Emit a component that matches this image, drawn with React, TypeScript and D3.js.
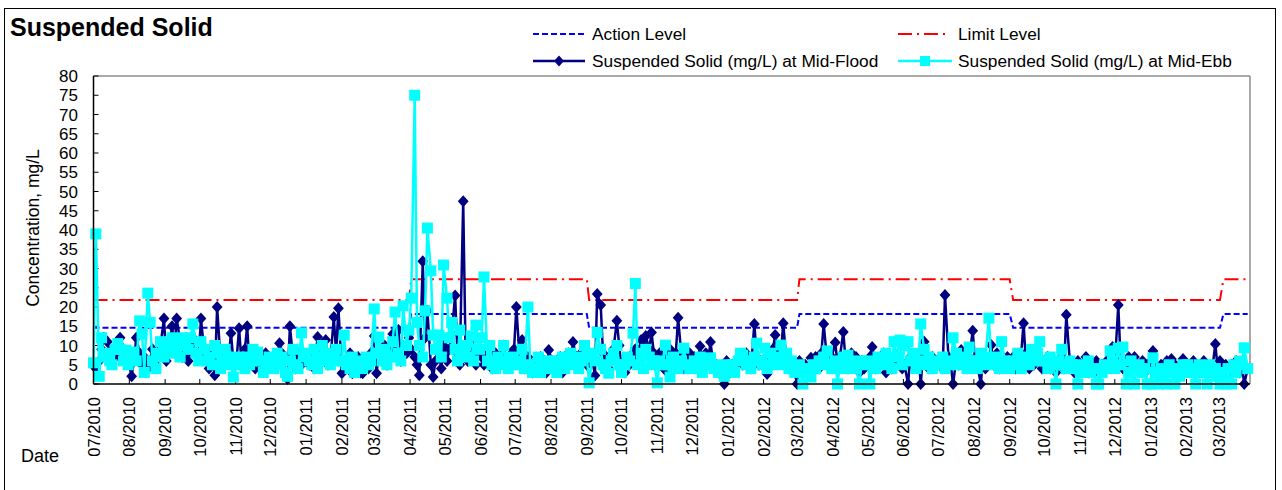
import React from "react";
import * as d3 from "d3";

// ---------- DATA (mg/L) ----------
// Each inner array is one month; samples are taken every Tue / Thu / Sat.
const flood2010 = [
  [5, 4, 6, 9, 12, 11, 8, 6, 7, 10, 12, 9, 7, 6],
  [2, 6, 12, 8, 5, 7, 4, 6, 9, 5, 8, 10, 17],
  [6, 8, 15, 9, 17, 11, 7, 10, 6, 9, 12, 8, 7],
  [17, 8, 6, 4, 9, 2.3, 20, 6, 5, 8, 7, 13.2, 6],
  [7, 14.5, 6, 9, 15, 5, 8, 4, 7, 6, 5, 8, 6],
  [5, 7, 6, 10.6, 8, 3, 1.3, 15, 6, 4, 8, 5, 7],
];
const flood2011a = [
  [6, 5, 8, 4, 12.2, 7, 9, 11.4, 5, 6, 17.4, 8, 19.7],
  [2.8, 6, 4, 8, 2.8, 5, 7, 3, 2.8, 6, 4, 8],
  [12.5, 2.8, 8, 6, 10, 5, 7, 13, 9, 14, 6, 10, 8, 12],
  [9, 7, 5, 2.3, 31.9, 12, 19, 5, 1.8, 6, 8, 4, 10],
  [6, 9, 13, 23, 8, 5, 47.5, 9, 6, 11, 7, 5, 8],
  [7, 5, 9, 6, 4, 8, 5, 7, 10, 6, 5, 8, 9],
];
const flood2011b = [
  [20, 6, 11.4, 4, 7, 5, 3, 6, 4, 7, 5, 3, 8.8],
  [6, 4, 5, 7, 3, 5, 8, 6, 10.9, 7, 5, 8, 6],
  [5, 7, 6, 2.2, 23.4, 20.5, 8, 6, 4, 7, 9, 16.4, 10],
  [4, 3, 6, 5, 8, 9, 7, 11.4, 10, 12.5, 9, 13.4, 8],
  [6, 8, 5, 3.6, 7, 9, 6, 8, 17.2, 7, 4, 6, 8],
  [5, 7, 6, 9.8, 4, 8, 6, 10.9, 4, 5, 3, 4, 0, 6],
];
const flood2012a = [
  [3, 5, 4, 6, 7, 5, 8, 6, 4, 15.6, 7, 5, 6],
  [5, 2.6, 7, 9, 12.7, 6, 8, 15.8, 5, 4, 6, 3],
  [0, 6, 4, 5, 3, 6.8, 5, 7, 4, 8, 15.6, 6, 5, 7],
  [10.8, 5, 7, 13.5, 6, 4, 8, 5, 7, 3, 6, 4],
  [5, 7, 9.6, 4, 6, 5, 8, 3, 6, 4, 7, 5, 6, 4],
  [5, 0, 7, 5, 6, 8, 0, 11, 6, 4, 7, 5, 6],
];
const flood2012b = [
  [6, 4, 23.1, 7, 5, 0, 7, 5, 8.8, 6, 4, 7, 13.8],
  [6, 5, 0, 7, 4, 6, 10.1, 5, 8, 4, 6, 5, 7],
  [5, 7, 4, 6, 8, 15.8, 6, 4, 7, 5, 8, 6, 4],
  [5, 7, 4, 6, 3, 5, 7, 4, 18, 6, 5, 3, 6],
  [4, 5, 7, 3, 5, 4, 6, 3, 5, 4, 6, 5, 9.6],
  [5, 20.5, 6, 4, 5, 7, 4, 7, 5, 4, 6, 3, 5],
];
const flood2013 = [
  [5, 8.6, 4, 3, 5, 4, 6, 4, 6.5, 5, 3, 4, 6.5, 5],
  [5, 4, 6, 5, 3, 4, 6, 5, 4, 3, 10.4, 4],
  [6, 4, 5, 3, 5, 4, 6, 3, 5, 0, 4],
];

const ebb2010 = [
  [5.5, 39, 2, 12, 7, 8, 6, 5, 9, 10.5, 9, 6, 8.8, 5],
  [8, 8.3, 6, 16.4, 13, 3, 23.6, 16, 6, 4, 8, 11, 7],
  [10, 9, 12, 8, 11, 7, 12, 10, 9, 12, 15.6, 8, 6],
  [11, 9, 6, 7, 5, 10, 8, 4, 6, 9, 7, 5, 1.8],
  [5, 7, 6, 4, 7, 5, 9, 6, 8.3, 6, 3, 5, 7],
  [6, 4, 8, 5, 7, 3, 2, 6, 9, 5, 4, 13.3, 7],
];
const ebb2011a = [
  [8, 6, 5, 9, 4, 7, 10, 6, 8, 5, 7, 9, 6],
  [6, 12.7, 5, 4, 7, 3, 6, 5, 4, 7, 5, 6],
  [19.5, 8, 12.2, 6, 9, 5, 7, 11, 18.7, 8, 6, 20.3, 10, 14],
  [22.3, 75, 16, 10, 7, 19, 40.5, 29.4, 12.7, 9, 12.7, 7, 30.9],
  [22.3, 12, 16, 9, 6, 14, 8, 10, 7, 12.5, 6, 15.3, 9],
  [12, 27.8, 6, 10, 5, 4, 7, 5, 10, 6, 4, 7, 5],
];
const ebb2011b = [
  [5, 6, 9, 4, 20, 5, 3, 4, 7, 3, 5, 4, 6],
  [4, 6, 3, 5, 7, 4, 6, 8, 5, 7, 4, 6, 10],
  [7, 0.3, 8, 6, 13.4, 9, 5, 4, 2.8, 6, 8, 10, 5],
  [3, 5, 7, 6, 13.2, 26.1, 5, 8, 4, 9, 7, 5, 6],
  [0.3, 6, 5, 10.1, 5, 1.8, 7, 5, 4, 6, 9.3, 5, 4],
  [4, 6, 5, 7, 3, 5, 6, 6.8, 4, 5, 3, 4, 2, 5],
];
const ebb2012a = [
  [4, 5, 3, 6, 8, 7.5, 5, 6, 4, 7, 10.6, 6, 5],
  [9.3, 4, 8, 5, 7, 6, 10.1, 5, 8, 4, 6, 3],
  [4, 5, 0, 3, 4, 1.8, 5, 4, 6, 5, 7, 8.6, 5, 4],
  [6, 0, 5, 7, 4, 7.5, 6, 5, 4, 0, 6, 5],
  [6, 0, 5, 4, 7, 6, 5, 8, 6, 4, 11, 7, 11.4, 5],
  [10, 11, 6, 8, 4, 6, 15.6, 9, 5, 7, 4, 6, 5],
];
const ebb2012b = [
  [5, 7, 4, 6, 5, 12, 8, 6, 5, 7, 4, 9.6, 6],
  [6, 4, 8, 5, 7, 17.1, 6, 5, 7, 4, 11, 6, 5],
  [4, 6, 5, 8, 4, 6, 7, 5, 9, 6, 8, 11, 6],
  [6, 4, 7, 5, 0, 6, 9, 5, 4, 6, 5, 4, 0],
  [5, 3, 4, 6, 3, 4, 0, 0, 3, 5, 4, 8.6, 6],
  [4, 9.3, 5, 9.6, 0, 3, 6, 0, 4, 5, 3, 4, 0],
];
const ebb2013 = [
  [0, 6.8, 3, 0, 4, 2, 0, 5, 3, 0, 4, 2, 5, 3],
  [5, 3, 4, 0, 5, 3, 4, 0, 5, 3, 4, 2],
  [0, 3, 0, 4, 0, 5, 3, 6, 5, 9.4, 4],
];

// Action / Limit levels by season (start date of each period)
const periodStarts = ["2010-07-01", "2011-04-01", "2011-09-02", "2012-03-02", "2012-09-02", "2013-03-04"];
const actionLevels = [14.6, 18.2, 14.6, 18.2, 14.6, 18.2];
const limitLevels = [21.8, 27.2, 21.8, 27.2, 21.8, 27.2];

const firstMonth = "2010-07-01";
const lastSample = "2013-03-26";
const axisEnd = "2013-03-28";
const yTicks = [0, 5, 10, 15, 20, 25, 30, 35, 40, 45, 50, 55, 60, 65, 70, 75, 80];

const seriesNames = [
  "Action Level",
  "Limit Level",
  "Suspended Solid (mg/L) at Mid-Flood",
  "Suspended Solid (mg/L) at Mid-Ebb",
];

// ---------- helpers ----------
const parse = (s: string) => {
  const [y, m, d] = s.split("-").map(Number);
  return new Date(y, m - 1, d);
};

function buildSeries(monthsData: number[][]) {
  const start = parse(firstMonth);
  const last = parse(lastSample);
  const pts: { date: Date; v: number }[] = [];
  monthsData.forEach((vals, i) => {
    const m0 = d3.timeMonth.offset(start, i);
    const m1 = d3.timeMonth.offset(m0, 1);
    const days = d3.timeDay
      .range(m0, m1)
      .filter((d) => [2, 4, 6].includes(d.getDay()) && d <= last);
    const n = Math.min(days.length, vals.length);
    for (let k = 0; k < n; k++) pts.push({ date: days[k], v: vals[k] });
  });
  return pts;
}

const FONT = "'Liberation Sans', Arial, Helvetica, sans-serif";

export default function App() {
  const W = 1282;
  const H = 490;
  const left = 93.5;
  const right = 1250;
  const top = 76;
  const bottom = 384;

  const x = d3.scaleTime().domain([parse(firstMonth), parse(axisEnd)]).range([left, right]);
  const y = d3.scaleLinear().domain([0, 80]).range([bottom, top]);

  const flood = buildSeries([...flood2010, ...flood2011a, ...flood2011b, ...flood2012a, ...flood2012b, ...flood2013]);
  const ebb = buildSeries([...ebb2010, ...ebb2011a, ...ebb2011b, ...ebb2012a, ...ebb2012b, ...ebb2013]);

  const starts = periodStarts.map(parse);
  const levelAt = (d: Date, arr: number[]) => {
    let idx = 0;
    starts.forEach((s, i) => {
      if (d >= s) idx = i;
    });
    return arr[idx];
  };
  const action = flood.map((p) => ({ date: p.date, v: levelAt(p.date, actionLevels) }));
  const limit = flood.map((p) => ({ date: p.date, v: levelAt(p.date, limitLevels) }));

  const line = d3
    .line<{ date: Date; v: number }>()
    .x((d) => x(d.date))
    .y((d) => y(d.v));

  const months = d3.timeMonth.range(parse(firstMonth), d3.timeMonth.offset(parse(axisEnd), 1)).filter((d) => d <= parse(axisEnd));
  const fmt = d3.timeFormat("%m/%Y");

  const diamond = (cx: number, cy: number, r: number) =>
    `M${cx},${cy - r}L${cx + r * 0.9},${cy}L${cx},${cy + r}L${cx - r * 0.9},${cy}Z`;

  const navy = "#000080";
  const cyan = "#00FFFF";
  const sq = 11;

  // legend layout
  const lgX1 = 533;
  const lgX2 = 898;
  const row1 = 34;
  const row2 = 61;

  return (
    <svg
      width={W}
      height={H}
      style={{ position: "absolute", left: 0, top: 0, background: "#fff" }}
      fontFamily={FONT}
    >
      <rect x={0} y={0} width={W} height={H} fill="#fff" />
      <rect x={4.5} y={8.5} width={1271} height={490} fill="none" stroke="#000" strokeWidth={1} />

      <text x={10} y={36} fontSize={25} fontWeight="bold" fill="#000">
        Suspended Solid
      </text>

      {/* plot frame */}
      <line x1={left} x2={right} y1={top} y2={top} stroke="#8c8c8c" strokeWidth={1.5} />
      <line x1={right} x2={right} y1={top} y2={bottom} stroke="#8c8c8c" strokeWidth={1.5} />

      {/* y ticks */}
      {yTicks.map((t) => (
        <g key={"y" + t}>
          <line x1={left} x2={left + 5} y1={y(t)} y2={y(t)} stroke="#000" strokeWidth={1} />
          <text x={78} y={y(t) + 6} fontSize={17} textAnchor="end" fill="#000">
            {t}
          </text>
        </g>
      ))}

      {/* x ticks */}
      {months.map((m) => (
        <g key={"x" + m.getTime()}>
          <line x1={x(m)} x2={x(m)} y1={bottom} y2={bottom - 5} stroke="#000" strokeWidth={1} />
          <text
            transform={`translate(${x(m) + 6},${397}) rotate(-90)`}
            fontSize={16.5}
            textAnchor="end"
            fill="#000"
          >
            {fmt(m)}
          </text>
        </g>
      ))}

      {/* level lines */}
      <path d={line(action) || ""} fill="none" stroke="#0000FF" strokeWidth={2} strokeDasharray="6,3" />
      <path d={line(limit) || ""} fill="none" stroke="#FF0000" strokeWidth={2} strokeDasharray="14,5,2,5" />

      {/* flood series */}
      <path d={line(flood) || ""} fill="none" stroke={navy} strokeWidth={2.5} strokeLinejoin="round" />
      {flood.map((p, i) => (
        <path key={"f" + i} d={diamond(x(p.date), y(p.v), 6)} fill={navy} />
      ))}

      {/* ebb series */}
      <path d={line(ebb) || ""} fill="none" stroke={cyan} strokeWidth={2.5} strokeLinejoin="round" />
      {ebb.map((p, i) => (
        <rect key={"e" + i} x={x(p.date) - sq / 2} y={y(p.v) - sq / 2} width={sq} height={sq} fill={cyan} />
      ))}

      {/* axes */}
      <line x1={left} x2={left} y1={top} y2={bottom} stroke="#000" strokeWidth={1.5} />
      <line x1={left} x2={right} y1={bottom} y2={bottom} stroke="#000" strokeWidth={1.5} />

      {/* axis titles */}
      <text transform={`translate(39,${228}) rotate(-90)`} fontSize={17.5} textAnchor="middle" fill="#000">
        Concentration, mg/L
      </text>
      <text x={21} y={462} fontSize={18} fill="#000">
        Date
      </text>

      {/* legend */}
      <g fontSize={17.3} fill="#000">
        <line x1={lgX1} x2={lgX1 + 52} y1={row1} y2={row1} stroke="#0000FF" strokeWidth={2} strokeDasharray="6,3" />
        <text x={592} y={row1 + 6}>{seriesNames[0]}</text>
        <line x1={lgX2} x2={lgX2 + 50} y1={row1} y2={row1} stroke="#FF0000" strokeWidth={2} strokeDasharray="14,5,2,5" />
        <text x={958} y={row1 + 6}>{seriesNames[1]}</text>

        <line x1={lgX1} x2={lgX1 + 52} y1={row2} y2={row2} stroke={navy} strokeWidth={2.5} />
        <path d={diamond(lgX1 + 26, row2, 5.5)} fill={navy} />
        <text x={592} y={row2 + 6}>{seriesNames[2]}</text>
        <line x1={lgX2} x2={lgX2 + 54} y1={row2} y2={row2} stroke={cyan} strokeWidth={2.5} />
        <rect x={lgX2 + 22} y={row2 - 5} width={10} height={10} fill={cyan} />
        <text x={958} y={row2 + 6}>{seriesNames[3]}</text>
      </g>
    </svg>
  );
}
